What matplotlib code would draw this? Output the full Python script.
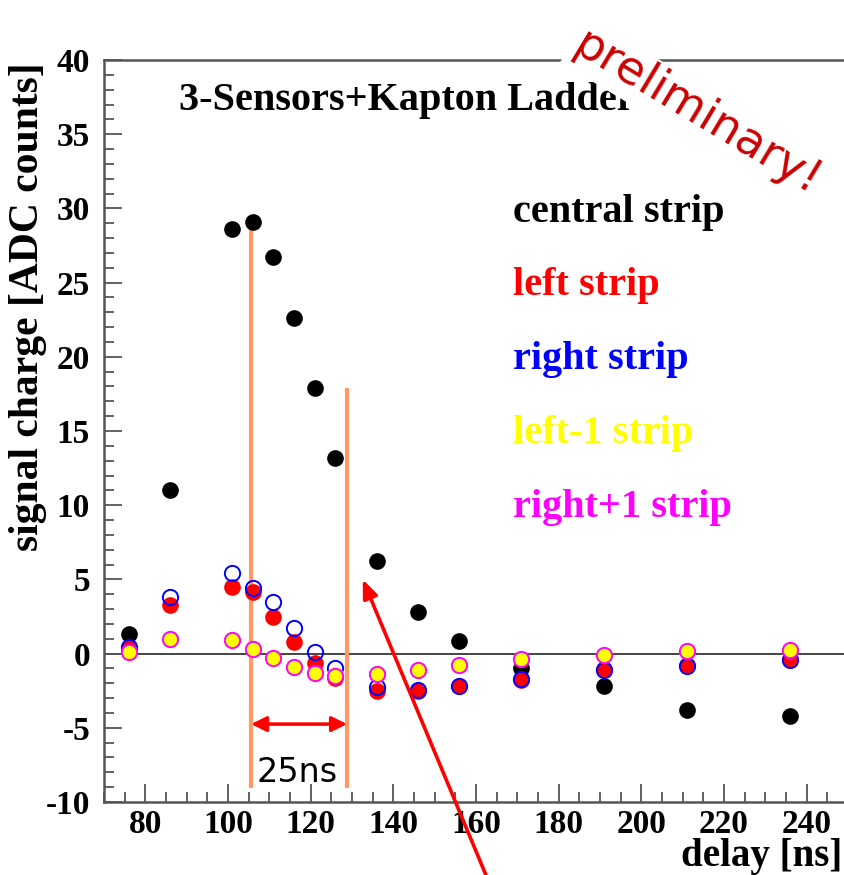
import matplotlib
matplotlib.use("Agg")
import matplotlib.pyplot as plt
from matplotlib.ticker import MultipleLocator

plt.rcParams["axes.unicode_minus"] = False

# ---- data ----
delay = [76, 86, 101, 106, 111, 116, 121, 126, 136, 146, 156, 171, 191, 211, 236]
central = [1.3, 11.0, 28.6, 29.1, 26.7, 22.6, 17.9, 13.2, 6.25, 2.8, 0.85, -1.0, -2.2, -3.8, -4.2]
left = [0.35, 3.3, 4.5, 4.15, 2.45, 0.76, -0.65, -1.67, -2.55, -2.55, -2.2, -1.78, -1.06, -0.77, -0.39]
right = [0.45, 3.8, 5.4, 4.45, 3.45, 1.7, 0.13, -0.95, -2.25, -2.45, -2.2, -1.7, -1.1, -0.85, -0.45]
left1 = [0.13, 1.0, 0.9, 0.3, -0.3, -0.88, -1.28, -1.44, -1.4, -1.1, -0.8, -0.39, -0.1, 0.17, 0.24]
right1 = [0.13, 1.0, 0.9, 0.3, -0.3, -0.88, -1.28, -1.5, -1.4, -1.1, -0.8, -0.39, -0.1, 0.17, 0.24]

series_labels = ["central strip", "left strip", "right strip", "left-1 strip", "right+1 strip"]
series_colors = ["black", "#ff0000", "#0000ff", "#ffff00", "#ff00ff"]

# annotation values (ns / ADC counts)
window_lines_x = [105.6, 128.8]
window_lines_top = [28.7, 17.9]
window_lines_bottom = -9.05
window_label = "25ns"
arrow_head = (132.6, 5.0)
arrow_tail = (170.0, -20.0)

serif = "Liberation Serif"

fig = plt.figure(figsize=(8.45, 8.75), dpi=100)
ax = fig.add_axes([104 / 845, 1 - 802 / 875, 744 / 845, 742 / 875])
ax.set_xlim(70, 250)
ax.set_ylim(-10, 40)

# zero line
ax.axhline(0, color="#444444", lw=1.4, zorder=1)

# orange window lines
ax.vlines(window_lines_x, window_lines_bottom, window_lines_top,
          color="#ff9966", lw=3.0, zorder=3)

ms = 12
ax.plot(delay, central, "o", ms=ms, color="black", mec="none", zorder=4)
ax.plot(delay, left, "o", ms=ms, color="#ff0000", mec="none", zorder=5)
ax.plot(delay, right, "o", ms=ms - 1, mfc="none", mec="#0000ff", mew=1.4, zorder=6)
ax.plot(delay, left1, "o", ms=ms, color="#ffff00", mec="none", zorder=7)
ax.plot(delay, right1, "o", ms=ms - 1, mfc="none", mec="#ff00ff", mew=1.4, zorder=8)

# double arrow 25 ns
ax.annotate("", xy=(window_lines_x[0], -4.75), xytext=(window_lines_x[1], -4.75),
            arrowprops=dict(arrowstyle="<|-|>,head_length=0.9,head_width=0.45",
                            color="#ff0000", lw=2.5, shrinkA=0, shrinkB=0), zorder=9)
ax.text(116.6, -8.0, window_label, fontsize=24, family="DejaVu Sans",
        ha="center", va="center", color="black", zorder=9)

# big red arrow
ax.annotate("", xy=arrow_head, xytext=arrow_tail,
            arrowprops=dict(arrowstyle="-|>,head_length=1.1,head_width=0.45",
                            color="#ff0000", lw=2.6, shrinkA=0, shrinkB=0),
            annotation_clip=False, zorder=9)

# title inside
ax.text(88.2, 36.63, "3-Sensors+Kapton Ladder", fontsize=29, family=serif,
        fontweight="bold", ha="left", va="baseline", zorder=9)

# legend-like text
leg_y = [29.1, 24.16, 19.18, 14.19, 9.2]
for lab, col, yy in zip(series_labels, series_colors, leg_y):
    ax.text(168.9, yy, lab, fontsize=29, family=serif, fontweight="bold",
            color=col, ha="left", va="baseline", zorder=9)

# preliminary stamp
ax.text(213.5, 36.4, "preliminary!", fontsize=33, family="DejaVu Sans",
        color="#cc0000", rotation=-31, rotation_mode="anchor",
        ha="center", va="center", zorder=20, clip_on=False,
        bbox=dict(facecolor="white", edgecolor="none", pad=3))

# axes styling
for side in ["left", "bottom", "top"]:
    ax.spines[side].set_color("#555555")
    ax.spines[side].set_linewidth(1.8)
ax.spines["right"].set_visible(False)

ax.xaxis.set_major_locator(MultipleLocator(20))
ax.xaxis.set_minor_locator(MultipleLocator(5))
ax.yaxis.set_major_locator(MultipleLocator(5))
ax.yaxis.set_minor_locator(MultipleLocator(1))
ax.tick_params(which="both", direction="in", top=False, right=False, color="#555555", width=1.3)
ax.tick_params(which="major", length=13, labelsize=24)
ax.tick_params(axis="y", which="major", pad=10)
ax.tick_params(axis="x", which="major", pad=5)
ax.tick_params(which="minor", length=7)
for lab in ax.get_xticklabels() + ax.get_yticklabels():
    lab.set_family(serif)
    lab.set_fontweight("bold")

ax.set_xlabel("delay [ns]", fontsize=28, family=serif, fontweight="bold", loc="right")
ax.xaxis.set_label_coords(0.992, -0.0735)
ax.xaxis.label.set_va("center")
ax.set_ylabel("signal charge [ADC counts]", fontsize=30, family=serif, fontweight="bold", loc="top")
ax.yaxis.set_label_coords(-0.102, 0.997)
ax.yaxis.label.set_va("center")

fig.savefig("out.png", dpi=100)
